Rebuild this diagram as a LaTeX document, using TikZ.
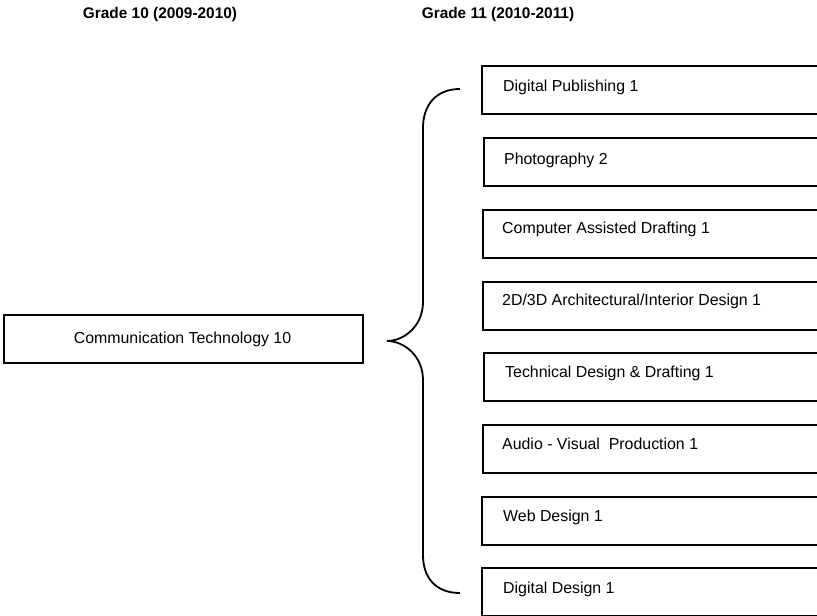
\documentclass[tikz,border=0pt]{standalone}
\usepackage{fontspec}
\setmainfont{Liberation Sans}
\begin{document}
\begin{tikzpicture}[x=1pt,y=-1pt,
  box/.style={draw,line width=1.8pt,rectangle,minimum height=48pt,minimum width=360pt,anchor=north west,inner sep=0pt},
  lbl/.style={anchor=base west,inner sep=0pt,font=\fontsize{15.9}{18}\selectfont},
  head/.style={anchor=base,inner sep=0pt,font=\bfseries\fontsize{15.4}{18}\selectfont},
  brace/.style={line width=1.8pt}]
\useasboundingbox (0,0) rectangle (817,616);
\clip (0,0) rectangle (817,616);
\node[head] (h1) at (160,18) {Grade 10 (2009-2010)};
\node[head] (h2) at (498,18) {Grade 11 (2010-2011)};
\node[draw,line width=1.8pt,minimum width=359pt,minimum height=48pt,inner sep=0pt,anchor=north west] (ct) at (3,314) {};
\node[inner sep=0pt,anchor=base,font=\fontsize{15.9}{18}\selectfont] (ctl) at (182.5,343) {Communication Technology 10};
\node[box] (b1) at (481,65) {};
\node[lbl] (t1) at (503,91) {Digital Publishing 1};
\node[box] (b2) at (483,137) {};
\node[lbl] (t2) at (504,164) {Photography 2};
\node[box] (b3) at (482,209) {};
\node[lbl] (t3) at (502,233) {Computer Assisted Drafting 1};
\node[box] (b4) at (482,281) {};
\node[lbl] (t4) at (502,305) {2D/3D Architectural/Interior Design 1};
\node[box] (b5) at (483,352) {};
\node[lbl] (t5) at (505,377) {Technical Design \& Drafting 1};
\node[box] (b6) at (482,424) {};
\node[lbl] (t6) at (502,449) {Audio - Visual\ \ Production 1};
\node[box] (b7) at (481,496) {};
\node[lbl] (t7) at (503,521) {Web Design 1};
\node[box] (b8) at (481,567) {};
\node[lbl] (t8) at (503,593) {Digital Design 1};
\coordinate (tip) at (387,341);
\coordinate (top) at (460,89);
\coordinate (bot) at (460,593);
\draw[brace] (top) .. controls (436,89) and (423,105) .. (423,128) -- (423,302)
  .. controls (423,326) and (404,341) .. (tip)
  .. controls (404,341) and (423,356) .. (423,380) -- (423,555)
  .. controls (423,578) and (436,593) .. (bot);
\end{tikzpicture}
\end{document}
